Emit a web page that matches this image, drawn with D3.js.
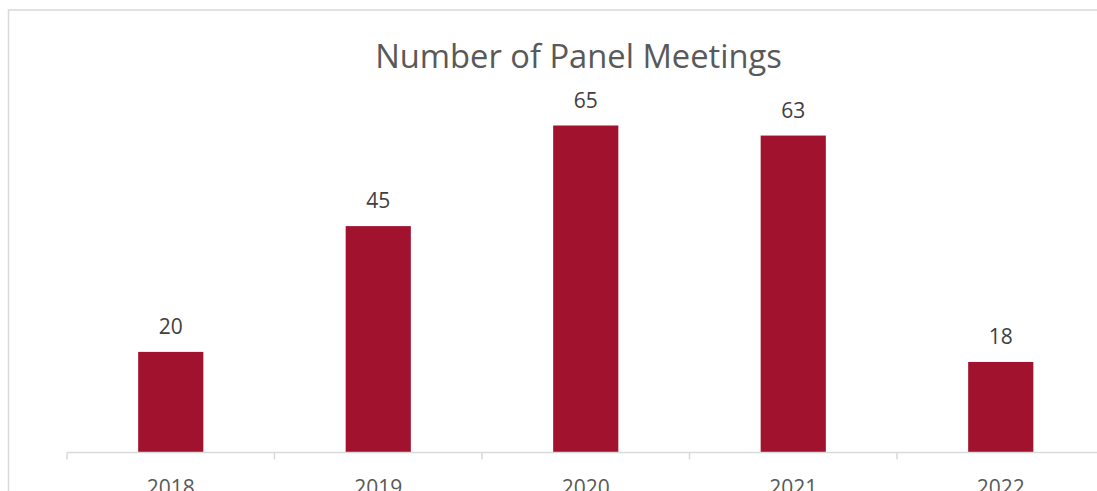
<!DOCTYPE html>
<html>
<head>
<meta charset="utf-8">
<script src="https://cdn.jsdelivr.net/npm/d3@7"></script>
<style>
  body { margin: 0; background: #fff; }
  text { font-family: "Open Sans", "Noto Sans", sans-serif; }
</style>
</head>
<body>
<script>
const width = 1097;
const height = 491;

const years = ["2018", "2019", "2020", "2021", "2022"];
const meetings = [20, 45, 65, 63, 18];

const axisLeft = 67;
const bandWidth = 207.5;
const baseline = 452.5;

const svg3 = d3.select("body").append("svg")
    .attr("width", width)
    .attr("height", height);

// chart frame (runs off the right and bottom of the picture)
svg3.append("rect")
    .attr("x", 8.5)
    .attr("y", 10)
    .attr("width", 1200)
    .attr("height", 600)
    .attr("fill", "none")
    .attr("stroke", "#d9d9d9")
    .attr("stroke-width", 1.5);

const x = d3.scaleBand()
    .domain(years)
    .range([axisLeft, axisLeft + bandWidth * years.length])
    .paddingInner(0.686)
    .paddingOuter(0.343);

const y = d3.scaleLinear()
    .domain([0, 65])
    .range([baseline, 125.5]);

// bars
svg3.selectAll(".bar")
    .data(meetings)
    .join("rect")
    .attr("class", "bar")
    .attr("x", (d, i) => x(years[i]))
    .attr("y", d => y(d))
    .attr("width", x.bandwidth())
    .attr("height", d => y(0) - y(d))
    .attr("fill", "#a0122d");

// x axis with ticks between categories
const x_axis = svg3.append("g")
    .attr("transform", `translate(0,${baseline})`);

x_axis.append("line")
    .attr("x1", axisLeft)
    .attr("x2", axisLeft + bandWidth * years.length)
    .attr("stroke", "#d9d9d9")
    .attr("stroke-width", 1.5);

x_axis.selectAll(".tick-mark")
    .data(d3.range(years.length + 1))
    .join("line")
    .attr("x1", i => axisLeft + i * bandWidth)
    .attr("x2", i => axisLeft + i * bandWidth)
    .attr("y1", 0)
    .attr("y2", 7)
    .attr("stroke", "#d9d9d9")
    .attr("stroke-width", 1.5);

// category labels sit low, partly cut by the picture edge as in the original
x_axis.selectAll(".cat")
    .data(years)
    .join("text")
    .attr("x", d => x(d) + x.bandwidth() / 2)
    .attr("y", 42)
    .attr("text-anchor", "middle")
    .attr("fill", "#595959")
    .style("font-size", "21px")
    .text(d => d);

// value labels
svg3.selectAll(".val")
    .data(meetings)
    .join("text")
    .attr("x", (d, i) => x(years[i]) + x.bandwidth() / 2)
    .attr("y", d => y(d) - 18)
    .attr("text-anchor", "middle")
    .attr("fill", "#404040")
    .style("font-size", "21px")
    .text(d => d);

// title
svg3.append("text")
    .attr("x", 578.5)
    .attr("y", 68)
    .attr("text-anchor", "middle")
    .attr("fill", "#595959")
    .style("font-size", "32.7px")
    .text("Number of Panel Meetings");
</script>
</body>
</html>
